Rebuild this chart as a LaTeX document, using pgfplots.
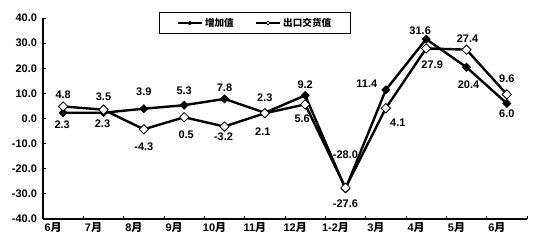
\documentclass[border=0pt]{standalone}
\usepackage{pgfplots}
\pgfplotsset{compat=1.18}
\usepackage{pgfplotstable}
\usepackage{fontspec}
\setmainfont{Liberation Sans}
\newfontfamily\cjk{Noto Sans CJK SC}

\pgfplotstableread{
x y dx dy
0 2.3 -1 -12
1 2.3 -1 -11
2 3.9 0 17
3 5.3 0 14
4 7.8 0 11
5 2.3 0 15
6 9.2 0 11
7 -28.0 0 34
8 11.4 -19 6
9 31.6 -6 8
10 20.4 2 -17
11 6.0 0 -10
}\zjz

\pgfplotstableread{
x y dx dy
0 4.8 0 12
1 3.5 0 13
2 -4.3 0 -17
3 0.5 2 -17
4 -3.2 -1 -10
5 2.1 -2 -18
6 5.6 -3 -14
7 -27.6 0 -16
8 4.1 12 -15
9 27.9 6 -16
10 27.4 1 11
11 9.6 0 16
}\ckjhz

\begin{document}
\begin{tikzpicture}
\useasboundingbox (-43pt,-26pt) rectangle (492pt,219pt);
\begin{axis}[
  at={(0pt,0pt)}, anchor=south west,
  scale only axis, width=484pt, height=201pt,
  xmin=-0.5, xmax=11.5, ymin=-40, ymax=40,
  axis x line*=bottom, axis y line*=left,
  axis line style={-, line width=1.2pt},
  ytick={-40,-30,...,40},
  yticklabel style={font=\bfseries\fontsize{11}{12}\selectfont, xshift=-2.5pt,
    /pgf/number format/.cd, fixed, fixed zerofill, precision=1, assume math mode=true},
  xtick={-0.5,0.5,...,11.5},
  xticklabels={},
  major tick length=3pt,
  tick style={black, line width=0.8pt},
  extra x ticks={0,1,2,3,4,5,6,7,8,9,10,11},
  extra x tick labels={6{\cjk 月},7{\cjk 月},8{\cjk 月},9{\cjk 月},10{\cjk 月},11{\cjk 月},12{\cjk 月},1-2{\cjk 月},3{\cjk 月},4{\cjk 月},5{\cjk 月},6{\cjk 月}},
  extra x tick style={tick style={draw=none}, xticklabel style={font=\bfseries\fontsize{11}{12}\selectfont, xshift=-10pt}},
  clip=false,
  point meta=y,
  nodes near coords={\pgfmathprintnumber[fixed,fixed zerofill,precision=1,assume math mode=true]{\pgfplotspointmeta}},
  visualization depends on={\thisrow{dx} \as \dx},
  visualization depends on={\thisrow{dy} \as \dy},
  nodes near coords style={anchor=center, xshift=\dx pt, yshift=\dy pt, font=\bfseries\fontsize{11}{12}\selectfont, text=black},
  legend columns=2,
  legend style={at={(0.2397,1.03)}, anchor=north west, draw=black, line width=1.2pt,
    font=\cjk\bfseries\fontsize{9.6}{10}\selectfont, inner xsep=17pt, inner ysep=3pt,
    nodes={inner xsep=2pt, inner ysep=2.5pt},
    /tikz/every even column/.append style={column sep=19pt}},
  legend image code/.code={\draw[mark size=1.3pt, mark repeat=2, mark phase=2] plot coordinates {(0pt,0pt) (12pt,0pt) (24pt,0pt)};},
]
\addplot[black, line width=2.4pt, mark=square*, mark size=2.8pt, mark options={rotate=45, fill=black, line width=0.8pt}] table[x=x,y=y] {\zjz};
\addlegendentry{增加值}
\addplot[black, line width=2.4pt, mark=square*, mark size=3.3pt, mark options={rotate=45, fill=white, line width=0.8pt}] table[x=x,y=y] {\ckjhz};
\addlegendentry{出口交货值}
\end{axis}
\end{tikzpicture}
\end{document}
